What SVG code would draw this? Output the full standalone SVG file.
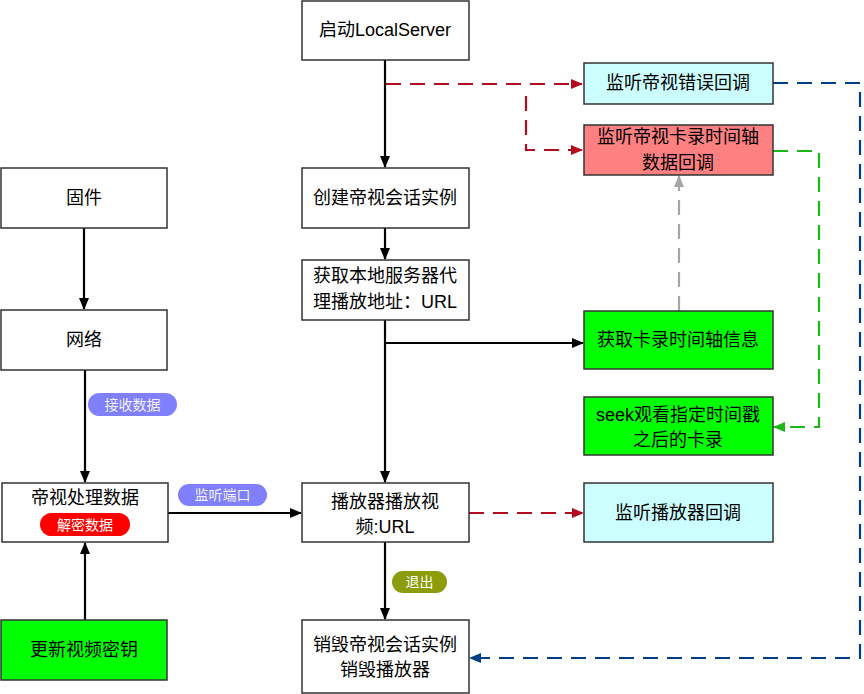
<svg xmlns="http://www.w3.org/2000/svg" width="864" height="694" viewBox="0 0 864 694">
<defs>
<style>
.n{stroke:#333;stroke-width:1.5}
.w{fill:#fff}.c{fill:#ccffff}.p{fill:#ff8080}.g{fill:#00ff00}
text{font-family:"Liberation Sans","Noto Sans CJK SC",sans-serif;text-anchor:middle}
.t{font-size:18px;fill:#000}
.l{font-size:14px;fill:#f2f2f2}
.s{fill:none;stroke:#000;stroke-width:2.2}
.d{fill:none;stroke-width:2.2;stroke-dasharray:15 9}
</style>
<marker id="ak" viewBox="0 0 12 10" refX="11" refY="5" markerWidth="12" markerHeight="10" orient="auto" markerUnits="userSpaceOnUse"><path d="M0,0L12,5L0,10z" fill="#000"/></marker>
<marker id="ar" viewBox="0 0 12 10" refX="11" refY="5" markerWidth="12" markerHeight="10" orient="auto" markerUnits="userSpaceOnUse"><path d="M0,0L12,5L0,10z" fill="#b20d1e"/></marker>
<marker id="ab" viewBox="0 0 12 10" refX="11" refY="5" markerWidth="12" markerHeight="10" orient="auto" markerUnits="userSpaceOnUse"><path d="M0,0L12,5L0,10z" fill="#003f88"/></marker>
<marker id="ag" viewBox="0 0 12 10" refX="11" refY="5" markerWidth="12" markerHeight="10" orient="auto" markerUnits="userSpaceOnUse"><path d="M0,0L12,5L0,10z" fill="#1ab81a"/></marker>
<marker id="ay" viewBox="0 0 12 10" refX="11" refY="5" markerWidth="12" markerHeight="10" orient="auto" markerUnits="userSpaceOnUse"><path d="M0,0L12,5L0,10z" fill="#a6a6a6"/></marker>
</defs>
<g id="connectors">
<path class="s" d="M385,60V167" marker-end="url(#ak)"/>
<path class="s" d="M385,228V259" marker-end="url(#ak)"/>
<path class="s" d="M385,320V482" marker-end="url(#ak)"/>
<path class="s" d="M385,343H583" marker-end="url(#ak)"/>
<path class="s" d="M385,542V619" marker-end="url(#ak)"/>
<path class="s" d="M84,228V309" marker-end="url(#ak)"/>
<path class="s" d="M85,370V482" marker-end="url(#ak)"/>
<path class="s" d="M168,513H301" marker-end="url(#ak)"/>
<path class="s" d="M85,620V543" marker-end="url(#ak)"/>
<path class="d" style="stroke:#b20d1e" d="M386,84H582" marker-end="url(#ar)"/>
<path class="d" style="stroke:#b20d1e" d="M526,96V150H582" marker-end="url(#ar)"/>
<path class="d" style="stroke:#b20d1e" d="M469,513H583" marker-end="url(#ar)"/>
<path class="d" style="stroke:#a6a6a6" d="M679,311V176" marker-end="url(#ay)"/>
<path class="d" style="stroke:#1ab81a" d="M773,151H819V427H774" marker-end="url(#ag)"/>
<path class="d" style="stroke:#003f88" d="M773,83H860V658H470" marker-end="url(#ab)"/>
</g>
<g id="n-start"><rect class="n w" x="302" y="1" width="167" height="59"/><text class="t" x="385" y="36">启动LocalServer</text></g>
<g id="n-create"><rect class="n w" x="302" y="168" width="167" height="60"/><text class="t" x="385" y="204">创建帝视会话实例</text></g>
<g id="n-url"><rect class="n w" x="302" y="260" width="167" height="60"/><text class="t" x="385" y="282">获取本地服务器代</text><text class="t" x="385" y="308">理播放地址：URL</text></g>
<g id="n-play"><rect class="n w" x="302" y="483" width="167" height="59"/><text class="t" x="385" y="508">播放器播放视</text><text class="t" x="385" y="533">频:URL</text></g>
<g id="n-destroy"><rect class="n w" x="302" y="620" width="167" height="73"/><text class="t" x="385" y="651">销毁帝视会话实例</text><text class="t" x="385" y="676">销毁播放器</text></g>
<g id="n-fw"><rect class="n w" x="1" y="168" width="166" height="60"/><text class="t" x="84" y="204">固件</text></g>
<g id="n-net"><rect class="n w" x="1" y="310" width="166" height="60"/><text class="t" x="84" y="346">网络</text></g>
<g id="n-proc"><rect class="n w" x="2" y="483" width="166" height="59"/><text class="t" x="85" y="504">帝视处理数据</text><rect x="40" y="513" width="90" height="23" rx="11.5" fill="#ff0000"/><text class="l" x="85" y="530" style="fill:#fff">解密数据</text></g>
<g id="n-key"><rect class="n g" x="1" y="620" width="166" height="60"/><text class="t" x="84" y="656">更新视频密钥</text></g>
<g id="n-err"><rect class="n c" x="584" y="63" width="189" height="41"/><text class="t" x="678" y="89">监听帝视错误回调</text></g>
<g id="n-tl"><rect class="n p" x="584" y="125" width="189" height="50"/><text class="t" x="678" y="143">监听帝视卡录时间轴</text><text class="t" x="678" y="169">数据回调</text></g>
<g id="n-gettl"><rect class="n g" x="584" y="311" width="189" height="58"/><text class="t" x="678" y="346">获取卡录时间轴信息</text></g>
<g id="n-seek"><rect class="n g" x="584" y="397" width="189" height="58"/><text class="t" x="678" y="421">seek观看指定时间戳</text><text class="t" x="678" y="446">之后的卡录</text></g>
<g id="n-pcb"><rect class="n c" x="584" y="483" width="189" height="59"/><text class="t" x="678" y="519">监听播放器回调</text></g>
<g id="labels">
<rect x="88" y="393" width="89" height="23" rx="11.5" fill="#8080ff"/><text class="l" x="132.5" y="410">接收数据</text>
<rect x="178" y="484" width="89" height="22" rx="11" fill="#8080ff"/><text class="l" x="222.5" y="500">监听端口</text>
<rect x="392" y="571" width="55" height="22" rx="11" fill="#8c9c0a"/><text class="l" x="419.5" y="587" style="fill:#fff">退出</text>
</g>
</svg>
